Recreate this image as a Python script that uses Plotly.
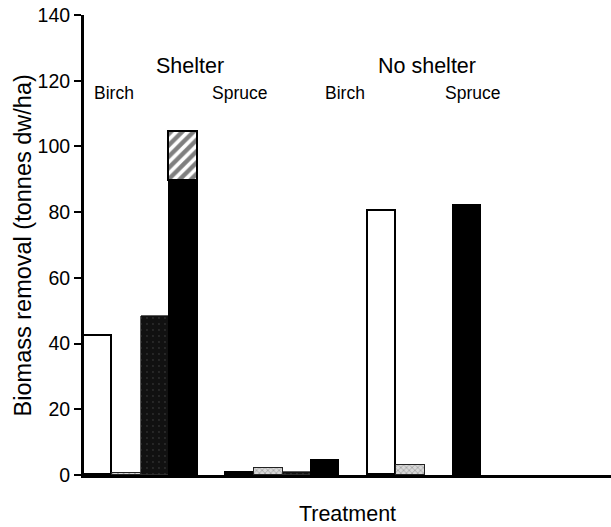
import plotly.graph_objects as go

# ---- data ----
slots = ["SB-white", "SB-grey", "SB-dark", "SB-black", "gap1",
         "SS-white", "SS-grey", "SS-dark", "SS-black", "gap2",
         "NB-white", "NB-grey", "gap3", "NS-black"]
gap_cats = ["gap1", "gap2", "gap3"]

white_cats = ["SB-white", "SS-white", "NB-white"]
white_vals = [42.2, 0.7, 80.4]

grey_cats = ["SB-grey", "SS-grey", "NB-grey"]
grey_vals = [0.7, 2.0, 3.1]

dark_cats = ["SB-dark", "SS-dark"]
dark_vals = [48.5, 1.0]

black_cats = ["SB-black", "SS-black", "NS-black"]
black_vals = [89.5, 4.6, 82.3]

hatch_cats = ["SB-black"]
hatch_vals = [14.8]

y_ticks = [0, 20, 40, 60, 80, 100, 120, 140]

FONT = "Liberation Sans, Arial, sans-serif"
line = dict(color="black", width=1.6)

fig = go.Figure()
fig.add_bar(x=gap_cats, y=[0, 0, 0], marker=dict(color="rgba(0,0,0,0)", line=dict(width=0)),
            hoverinfo="skip", showlegend=False)
fig.add_bar(x=white_cats, y=white_vals, marker=dict(color="white", line=line), name="white")
fig.add_bar(x=grey_cats, y=grey_vals,
            marker=dict(color="#c8c8c8", line=dict(color="#222222", width=1),
                        pattern=dict(shape="x", fgcolor="#555555", bgcolor="#d8d8d8", size=4, solidity=0.3)),
            name="grey")
fig.add_bar(x=dark_cats, y=dark_vals,
            marker=dict(color="#111111", line=dict(color="#333333", width=0.8),
                        pattern=dict(shape=".", fgcolor="#4a4a4a", bgcolor="#111111", size=6, solidity=0.08)),
            name="dark")
fig.add_bar(x=black_cats, y=black_vals, marker=dict(color="black", line=dict(color="black", width=1)),
            name="black")
fig.add_bar(x=hatch_cats, y=hatch_vals,
            marker=dict(color="white", line=line,
                        pattern=dict(shape="/", fgcolor="black", bgcolor="white", size=8, solidity=0.55)),
            name="hatched")

annots = [
    ("Shelter", 3.23, 124.5, 21.5),
    ("No shelter", 11.6, 124.5, 21.5),
    ("Birch", 0.55, 116.3, 17.5),
    ("Spruce", 4.97, 116.3, 17.5),
    ("Birch", 8.68, 116.3, 17.5),
    ("Spruce", 13.18, 116.3, 17.5),
]
for txt, xx, yy, fs in annots:
    fig.add_annotation(x=xx, y=yy, xref="x", yref="y", text=txt, showarrow=False,
                       font=dict(family=FONT, size=fs, color="black"),
                       xanchor="center", yanchor="middle")

# y-axis title placed as rotated annotation
fig.add_annotation(x=-0.115, y=0.5, xref="paper", yref="paper",
                   text="Biomass removal (tonnes dw/ha)", textangle=-90, showarrow=False,
                   font=dict(family=FONT, size=23.5, color="black"),
                   xanchor="center", yanchor="middle")

fig.update_layout(
    width=611, height=527,
    margin=dict(l=84, r=0, t=15, b=52, autoexpand=False),
    paper_bgcolor="white", plot_bgcolor="white",
    barmode="stack", bargap=0, showlegend=False,
    font=dict(family=FONT, color="black"),
    xaxis=dict(type="category", categoryorder="array", categoryarray=slots,
               range=[-0.5, 18.07], showticklabels=False, ticks="", automargin=False,
               showline=True, linecolor="black", linewidth=2.5, showgrid=False,
               zeroline=False,
               title=dict(text="Treatment", font=dict(family=FONT, size=21.5), standoff=30)),
    yaxis=dict(range=[0, 140], tickvals=y_ticks, ticks="outside", ticklen=7, tickwidth=2,
               tickcolor="black", showline=True, linecolor="black", linewidth=3,
               showgrid=False, zeroline=False, automargin=False,
               tickfont=dict(family=FONT, size=19.5, color="black")),
)

fig.write_html("out.html", config={"displayModeBar": False},
               post_script="document.body.style.margin='0';document.body.style.padding='0';")
